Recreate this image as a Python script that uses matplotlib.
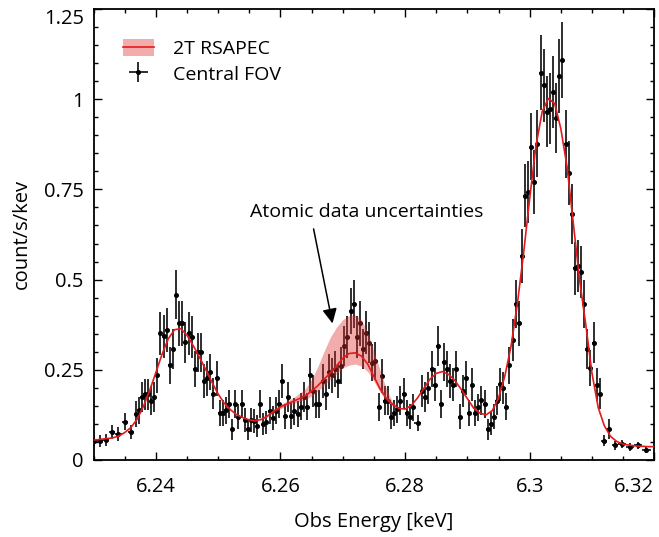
import numpy as np
import matplotlib
matplotlib.use("Agg")
import matplotlib.pyplot as plt
from matplotlib.patches import Patch
from matplotlib.lines import Line2D
from matplotlib.ticker import MultipleLocator, FixedLocator, FuncFormatter

plt.rcParams['font.family'] = ['Open Sans', 'DejaVu Sans']

# --- data: spectrum, 0.5 eV core bins (keV, count/s/keV) ---
core_energy = [
    6.23675, 6.23725, 6.23775, 6.23825, 6.23875, 6.23925, 6.23975, 6.24025, 6.24075, 6.24125,
    6.24175, 6.24225, 6.24275, 6.24325, 6.24375, 6.24425, 6.24475, 6.24525, 6.24575, 6.24625,
    6.24675, 6.24725, 6.24775, 6.24825, 6.24875, 6.24925, 6.24975, 6.25025, 6.25075, 6.25125,
    6.25175, 6.25225, 6.25275, 6.25325, 6.25375, 6.25425, 6.25475, 6.25525, 6.25575, 6.25625,
    6.25675, 6.25725, 6.25775, 6.25825, 6.25875, 6.25925, 6.25975, 6.26025, 6.26075, 6.26125,
    6.26175, 6.26225, 6.26275, 6.26325, 6.26375, 6.26425, 6.26475, 6.26525, 6.26575, 6.26625,
    6.26675, 6.26725, 6.26775, 6.26825, 6.26875, 6.26925, 6.26975, 6.27025, 6.27075, 6.27125,
    6.27175, 6.27225, 6.27275, 6.27325, 6.27375, 6.27425, 6.27475, 6.27525, 6.27575, 6.27625,
    6.27675, 6.27725, 6.27775, 6.27825, 6.27875, 6.27925, 6.27975, 6.28025, 6.28075, 6.28125,
    6.28275, 6.28325, 6.28375, 6.28425, 6.28475, 6.28525, 6.28575, 6.28625, 6.28675, 6.28725,
    6.28775, 6.28825, 6.28875, 6.28925, 6.28975, 6.29025, 6.29075, 6.29125, 6.29175, 6.29225,
    6.29275, 6.29325, 6.29375, 6.29425, 6.29475, 6.29525, 6.29575, 6.29625, 6.29675, 6.29725,
    6.29775, 6.29825, 6.29875, 6.29925, 6.29975, 6.30025, 6.30075, 6.30125, 6.30175, 6.30225,
    6.30275, 6.30325, 6.30375, 6.30425, 6.30475, 6.30525, 6.30575, 6.30625, 6.30675, 6.30725,
    6.30775, 6.30825, 6.30875, 6.30925, 6.30975, 6.31025, 6.31075, 6.31125,
]
core_rate = [
    0.128, 0.138, 0.174, 0.182, 0.182, 0.164, 0.174, 0.235, 0.351, 0.343,
    0.360, 0.263, 0.307, 0.458, 0.379, 0.379, 0.326, 0.351, 0.340, 0.253,
    0.298, 0.298, 0.218, 0.226, 0.244, 0.184, 0.226, 0.129, 0.129, 0.138,
    0.155, 0.085, 0.155, 0.120, 0.155, 0.111, 0.085, 0.110, 0.108, 0.095,
    0.155, 0.099, 0.104, 0.137, 0.116, 0.137, 0.155, 0.218, 0.121, 0.174,
    0.122, 0.135, 0.127, 0.148, 0.174, 0.148, 0.235, 0.192, 0.155, 0.155,
    0.219, 0.182, 0.245, 0.235, 0.253, 0.219, 0.261, 0.316, 0.342, 0.414,
    0.432, 0.342, 0.379, 0.307, 0.353, 0.325, 0.270, 0.274, 0.147, 0.233,
    0.164, 0.164, 0.120, 0.129, 0.140, 0.164, 0.183, 0.129, 0.120, 0.146,
    0.191, 0.174, 0.200, 0.253, 0.209, 0.316, 0.156, 0.271, 0.253, 0.218,
    0.209, 0.253, 0.120, 0.191, 0.227, 0.129, 0.209, 0.129, 0.146, 0.165,
    0.156, 0.085, 0.101, 0.120, 0.164, 0.210, 0.199, 0.148, 0.263, 0.332,
    0.432, 0.379, 0.565, 0.733, 0.743, 0.868, 0.770, 0.877, 1.073, 1.038,
    0.965, 0.974, 1.020, 0.949, 1.064, 1.108, 0.875, 0.796, 0.681, 0.531,
    0.538, 0.522, 0.432, 0.307, 0.254, 0.325, 0.209, 0.183,
]
core_err = [
    0.036, 0.037, 0.042, 0.043, 0.043, 0.040, 0.042, 0.048, 0.059, 0.059,
    0.060, 0.051, 0.055, 0.068, 0.062, 0.062, 0.057, 0.059, 0.058, 0.050,
    0.055, 0.055, 0.047, 0.048, 0.049, 0.043, 0.048, 0.036, 0.036, 0.037,
    0.039, 0.029, 0.039, 0.035, 0.039, 0.033, 0.029, 0.033, 0.033, 0.031,
    0.039, 0.031, 0.032, 0.037, 0.034, 0.037, 0.039, 0.047, 0.035, 0.042,
    0.035, 0.037, 0.036, 0.038, 0.042, 0.038, 0.048, 0.044, 0.039, 0.039,
    0.047, 0.043, 0.049, 0.048, 0.050, 0.047, 0.051, 0.056, 0.058, 0.064,
    0.066, 0.058, 0.062, 0.055, 0.059, 0.057, 0.052, 0.052, 0.038, 0.048,
    0.040, 0.040, 0.035, 0.036, 0.037, 0.040, 0.043, 0.036, 0.035, 0.038,
    0.044, 0.042, 0.045, 0.050, 0.046, 0.056, 0.039, 0.052, 0.050, 0.047,
    0.046, 0.050, 0.035, 0.044, 0.048, 0.036, 0.046, 0.036, 0.038, 0.041,
    0.039, 0.029, 0.032, 0.035, 0.040, 0.046, 0.045, 0.038, 0.051, 0.058,
    0.066, 0.062, 0.075, 0.086, 0.086, 0.093, 0.088, 0.094, 0.104, 0.102,
    0.098, 0.099, 0.101, 0.097, 0.103, 0.105, 0.094, 0.089, 0.083, 0.073,
    0.073, 0.072, 0.066, 0.055, 0.050, 0.057, 0.046, 0.043,
]
core_halfwidth = 0.00025

# grouped (wider) bins in the tails and one merged bin
wide_energy = [6.2300, 6.2310, 6.2320, 6.2330, 6.2340, 6.2350, 6.2360, 6.2820,
               6.3119, 6.3127, 6.3137, 6.3148, 6.3161, 6.3174, 6.3187]
wide_rate = [0.052, 0.053, 0.056, 0.078, 0.072, 0.106, 0.078, 0.102,
             0.054, 0.085, 0.041, 0.044, 0.036, 0.041, 0.028]
wide_err = [0.016, 0.016, 0.017, 0.020, 0.019, 0.023, 0.020, 0.022,
            0.016, 0.028, 0.013, 0.011, 0.010, 0.010, 0.008]
wide_halfwidth = [0.0005, 0.0005, 0.0005, 0.0005, 0.0005, 0.0005, 0.0005, 0.0005,
                  0.00045, 0.00025, 0.0005, 0.0006, 0.00064, 0.00064, 0.0007]

# --- 2T RSAPEC model sampled every 1 eV from 6.230 to 6.320 keV ---
model_energy = np.linspace(6.23, 6.32, 91)
model_rate = [
    0.055, 0.057, 0.059, 0.061, 0.066, 0.076, 0.090, 0.113, 0.148, 0.192,
    0.242, 0.293, 0.336, 0.361, 0.364, 0.346, 0.317, 0.285, 0.251, 0.216,
    0.183, 0.157, 0.139, 0.125, 0.117, 0.111, 0.109, 0.113, 0.123, 0.136,
    0.147, 0.155, 0.162, 0.170, 0.178, 0.191, 0.206, 0.224, 0.241, 0.261,
    0.282, 0.295, 0.297, 0.288, 0.266, 0.231, 0.197, 0.171, 0.154, 0.143,
    0.141, 0.151, 0.172, 0.198, 0.224, 0.240, 0.245, 0.237, 0.220, 0.196,
    0.170, 0.144, 0.130, 0.125, 0.137, 0.172, 0.232, 0.315, 0.430, 0.570,
    0.725, 0.870, 0.965, 1.002, 0.988, 0.918, 0.812, 0.656, 0.500, 0.375,
    0.240, 0.145, 0.094, 0.065, 0.051, 0.044, 0.041, 0.039, 0.038, 0.037, 0.037,
]
# atomic-data uncertainty envelope, model samples 25..49 (6.255-6.279 keV)
band_start, band_stop = 25, 50
band_upper = [0.112, 0.111, 0.116, 0.127, 0.141, 0.154, 0.163, 0.172, 0.184, 0.198,
              0.223, 0.259, 0.301, 0.340, 0.368, 0.389, 0.400, 0.402, 0.388, 0.353,
              0.300, 0.248, 0.197, 0.160, 0.144]
band_lower = [0.110, 0.107, 0.111, 0.120, 0.132, 0.142, 0.150, 0.156, 0.162, 0.168,
              0.177, 0.191, 0.207, 0.223, 0.239, 0.255, 0.263, 0.266, 0.260, 0.245,
              0.218, 0.188, 0.164, 0.150, 0.142]

x_ticks = [6.24, 6.26, 6.28, 6.30, 6.32]
y_ticks = [0, 0.25, 0.5, 0.75, 1.0, 1.25]

RED = '#e41a1c'
BAND = '#e03030'

fig = plt.figure(figsize=(6.59, 5.37), dpi=100)
ax = fig.add_axes([0.1419, 0.1434, 0.851, 0.8399])

eb_kw = dict(fmt='o', ms=2.6, color='black', ecolor='#151515', elinewidth=1.25,
             capsize=0, zorder=2)
data_eb = ax.errorbar(core_energy, core_rate, yerr=core_err, xerr=core_halfwidth, **eb_kw)
ax.errorbar(wide_energy, wide_rate, yerr=wide_err, xerr=wide_halfwidth, **eb_kw)

ax.fill_between(model_energy[band_start:band_stop], band_lower, band_upper,
                color=BAND, alpha=0.4, lw=0, zorder=3)
ax.plot(model_energy, model_rate, color=RED, lw=1.2, zorder=4)

ax.set_xlim(6.23, 6.32)
ax.set_ylim(0, 1.25)
ax.xaxis.set_major_locator(FixedLocator(x_ticks))
ax.xaxis.set_minor_locator(MultipleLocator(0.005))
ax.yaxis.set_major_locator(FixedLocator(y_ticks))
ax.yaxis.set_minor_locator(MultipleLocator(0.05))
fmt = FuncFormatter(lambda v, p: '%g' % round(v, 4))
ax.xaxis.set_major_formatter(fmt)
ax.yaxis.set_major_formatter(fmt)
ax.tick_params(which='both', direction='in', top=True, right=True, width=1.0,
               labelsize=14.5)
ax.tick_params(which='major', length=6)
ax.tick_params(which='minor', length=3.2)
ax.tick_params(axis='x', pad=12)
ax.tick_params(axis='y', pad=7)
for s in ax.spines.values():
    s.set_linewidth(1.3)

ax.set_xlabel('Obs Energy [keV]', fontsize=14.5, va='center')
ax.xaxis.set_label_coords(0.5, -0.1375)
ax.set_ylabel('count/s/kev', fontsize=14.5, va='center')
ax.yaxis.set_label_coords(-0.1275, 0.5)

# annotation
ax.text(6.2739, 0.687, 'Atomic data uncertainties', fontsize=14, ha='center', va='center')
ax.annotate('', xy=(6.26844, 0.371), xytext=(6.26523, 0.648),
            arrowprops=dict(arrowstyle='-|>', color='black', lw=1.1, mutation_scale=22))

band_handle = (Patch(facecolor=BAND, alpha=0.4, lw=0), Line2D([], [], color=RED, lw=1.2))
ax.legend([band_handle, data_eb], ['2T RSAPEC', 'Central FOV'], loc='upper left',
          bbox_to_anchor=(0.035, 0.955), frameon=False, fontsize=14, borderpad=0,
          handlelength=1.6, handleheight=1.0, handletextpad=1.0, labelspacing=0.3)

# keep the end labels inside the figure, as in the reference
fig.canvas.draw()
for lab in ax.get_yticklabels():
    if lab.get_text() == '1.25':
        lab.set_verticalalignment('top')
for lab in ax.get_xticklabels():
    if lab.get_text() == '6.32':
        lab.set_horizontalalignment('right')

fig.savefig('out.png', dpi=100)
